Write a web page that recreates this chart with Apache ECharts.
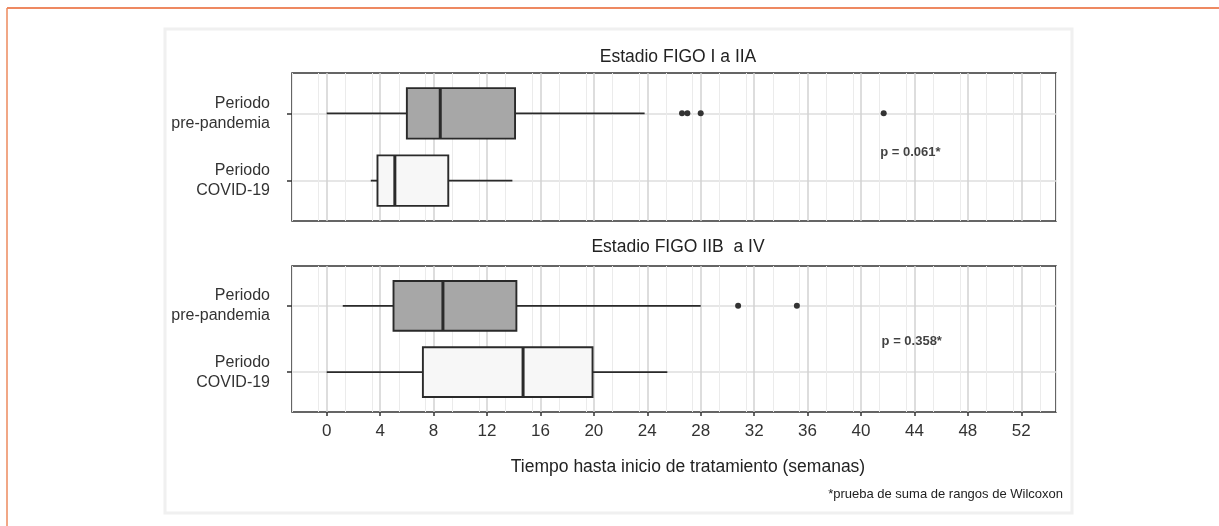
<!DOCTYPE html>
<html>
<head>
<meta charset="utf-8">
<script src="https://cdn.jsdelivr.net/npm/echarts@6/dist/echarts.min.js"></script>
<style>
html, body { margin: 0; padding: 0; background: #fff; }
#chart { width: 1219px; height: 526px; }
</style>
</head>
<body>
<div id="chart"></div>
<script>
// datos (semanas)
var categories = ['Periodo\npre-pandemia', 'Periodo\nCOVID-19'];
var panelTitles = ['Estadio FIGO I a IIA', 'Estadio FIGO IIB  a IV'];
var xTicks = [0, 4, 8, 12, 16, 20, 24, 28, 32, 36, 40, 44, 48, 52];
// [min, Q1, mediana, Q3, max]
var boxesEarly = [[0, 6, 8.5, 14.1, 23.8], [3.3, 3.8, 5.1, 9.1, 13.9]];
var outliersEarly = [26.6, 27, 28, 41.7];
var boxesLate = [[1.2, 5, 8.7, 14.2, 28], [0, 7.2, 14.7, 19.9, 25.5]];
var outliersLate = [30.8, 35.2];
var pValues = ['p = 0.061*', 'p = 0.358*'];
var pPos = [[43.7, 1.58], [43.8, 1.53]];

var font = "'Liberation Sans', Arial, sans-serif";
var boxFill = ['#a7a7a7', '#f7f7f7'];
var ink = '#2a2a2a';

var chart = echarts.init(document.getElementById('chart'));

function boxData(boxes) {
    return boxes.map(function (b, i) { return [i + 1].concat(b); });
}

function outlierData(vals) {
    return vals.map(function (v) { return [v, 1]; });
}

// caja estilo ggplot: sin topes en los bigotes, mediana gruesa
function renderBox(params, api) {
    var y = api.value(0);
    var pLo = api.coord([api.value(1), y]);
    var pQ1 = api.coord([api.value(2), y]);
    var pMed = api.coord([api.value(3), y]);
    var pQ3 = api.coord([api.value(4), y]);
    var pHi = api.coord([api.value(5), y]);
    var h = api.size([0, 0.75])[1];
    var cy = pQ1[1];
    return {
        type: 'group',
        children: [
            { type: 'line', shape: { x1: pLo[0], y1: cy, x2: pQ1[0], y2: cy },
              style: { stroke: ink, lineWidth: 1.8 } },
            { type: 'line', shape: { x1: pQ3[0], y1: cy, x2: pHi[0], y2: cy },
              style: { stroke: ink, lineWidth: 1.8 } },
            { type: 'rect', shape: { x: pQ1[0], y: cy - h / 2, width: pQ3[0] - pQ1[0], height: h },
              style: { fill: boxFill[params.dataIndex], stroke: ink, lineWidth: 1.9 } },
            { type: 'line', shape: { x1: pMed[0], y1: cy - h / 2, x2: pMed[0], y2: cy + h / 2 },
              style: { stroke: ink, lineWidth: 3 } }
        ]
    };
}

var grids = [
    { left: 292, top: 73, width: 764, height: 148 },
    { left: 292, top: 266, width: 764, height: 146 }
];
grids.forEach(function (g) {
    g.show = true;
    g.backgroundColor = '#fff';
    g.borderColor = '#333';
    g.borderWidth = 1.5;
});

var xAxes = [];
var yAxes = [];
[0, 1].forEach(function (gi) {
    // lineas menores
    xAxes.push({
        type: 'value', gridIndex: gi, min: -2.6, max: 54.6, interval: 2, position: 'bottom',
        axisLine: { show: false, onZero: false }, axisTick: { show: false }, axisLabel: { show: false },
        splitLine: { show: true, lineStyle: { color: '#ebebeb', width: 1 } }
    });
    // lineas mayores + etiquetas
    xAxes.push({
        type: 'value', gridIndex: gi, min: -2.6, max: 54.6, interval: 4, position: 'bottom',
        axisLine: { show: false, onZero: false },
        axisTick: { show: gi === 1, length: 4, customValues: xTicks,
            lineStyle: { color: '#333', width: 1.5 } },
        axisLabel: { show: gi === 1, customValues: xTicks, margin: 11,
            color: '#333', fontSize: 17, fontFamily: font },
        splitLine: { show: true, lineStyle: { color: '#d2d2d2', width: 1.5 } },
        name: gi === 1 ? 'Tiempo hasta inicio de tratamiento (semanas)' : '',
        nameLocation: 'middle', nameGap: 46,
        nameTextStyle: { color: '#222', fontSize: 17.5, fontFamily: font, padding: [0, 0, 0, 28] }
    });
    yAxes.push({
        type: 'value', gridIndex: gi, min: 0.4, max: 2.6, interval: 1, inverse: true, position: 'left',
        axisLine: { show: false, onZero: false },
        axisTick: { show: true, length: 5, customValues: [1, 2],
            lineStyle: { color: '#333', width: 1.5 } },
        axisLabel: { customValues: [1, 2], margin: 22, color: '#333', fontSize: 16,
            lineHeight: 20, fontFamily: font, align: 'right', padding: [0, 0, 11, 0],
            formatter: function (v) { return categories[Math.round(v) - 1] || ''; } },
        splitLine: { show: true, lineStyle: { color: '#dedede', width: 1.5 } }
    });
});

var series = [];
[[boxesEarly, outliersEarly], [boxesLate, outliersLate]].forEach(function (p, gi) {
    series.push({
        type: 'custom', xAxisIndex: gi * 2 + 1, yAxisIndex: gi,
        renderItem: renderBox,
        encode: { x: [1, 2, 3, 4, 5], y: 0 },
        data: boxData(p[0])
    });
    series.push({
        type: 'scatter', xAxisIndex: gi * 2 + 1, yAxisIndex: gi,
        symbolSize: 6, itemStyle: { color: '#333', opacity: 1 },
        data: outlierData(p[1])
    });
    series.push({
        type: 'scatter', xAxisIndex: gi * 2 + 1, yAxisIndex: gi,
        symbolSize: 0, silent: true,
        label: { show: true, position: 'inside', formatter: pValues[gi],
            color: '#111', fontSize: 13, fontWeight: 'bold', fontFamily: font },
        data: [pPos[gi]]
    });
});

var option = {
    backgroundColor: '#fff',
    animation: false,
    title: [
        { text: panelTitles[0], left: 673, top: 43, textAlign: 'center',
          textStyle: { color: '#222', fontSize: 17.5, fontWeight: 'normal', fontFamily: font } },
        { text: panelTitles[1], left: 673, top: 233, textAlign: 'center',
          textStyle: { color: '#222', fontSize: 17.5, fontWeight: 'normal', fontFamily: font } }
    ],
    grid: grids,
    xAxis: xAxes,
    yAxis: yAxes,
    series: series,
    graphic: [
        { type: 'rect', shape: { x: 165, y: 29, width: 907, height: 484 },
          style: { fill: null, stroke: '#f0f0f0', lineWidth: 3 }, z: -1 },
        { type: 'line', shape: { x1: 7, y1: 8, x2: 1219, y2: 8 },
          style: { stroke: '#e8622d', lineWidth: 1.5 } },
        { type: 'line', shape: { x1: 7, y1: 8, x2: 7, y2: 526 },
          style: { stroke: '#ec8a5e', lineWidth: 1.5 } },
        { type: 'text', right: 156, top: 488,
          style: { text: '*prueba de suma de rangos de Wilcoxon', fill: '#222',
                   fontSize: 13, fontFamily: font } }
    ]
};

chart.setOption(option);
</script>
</body>
</html>
